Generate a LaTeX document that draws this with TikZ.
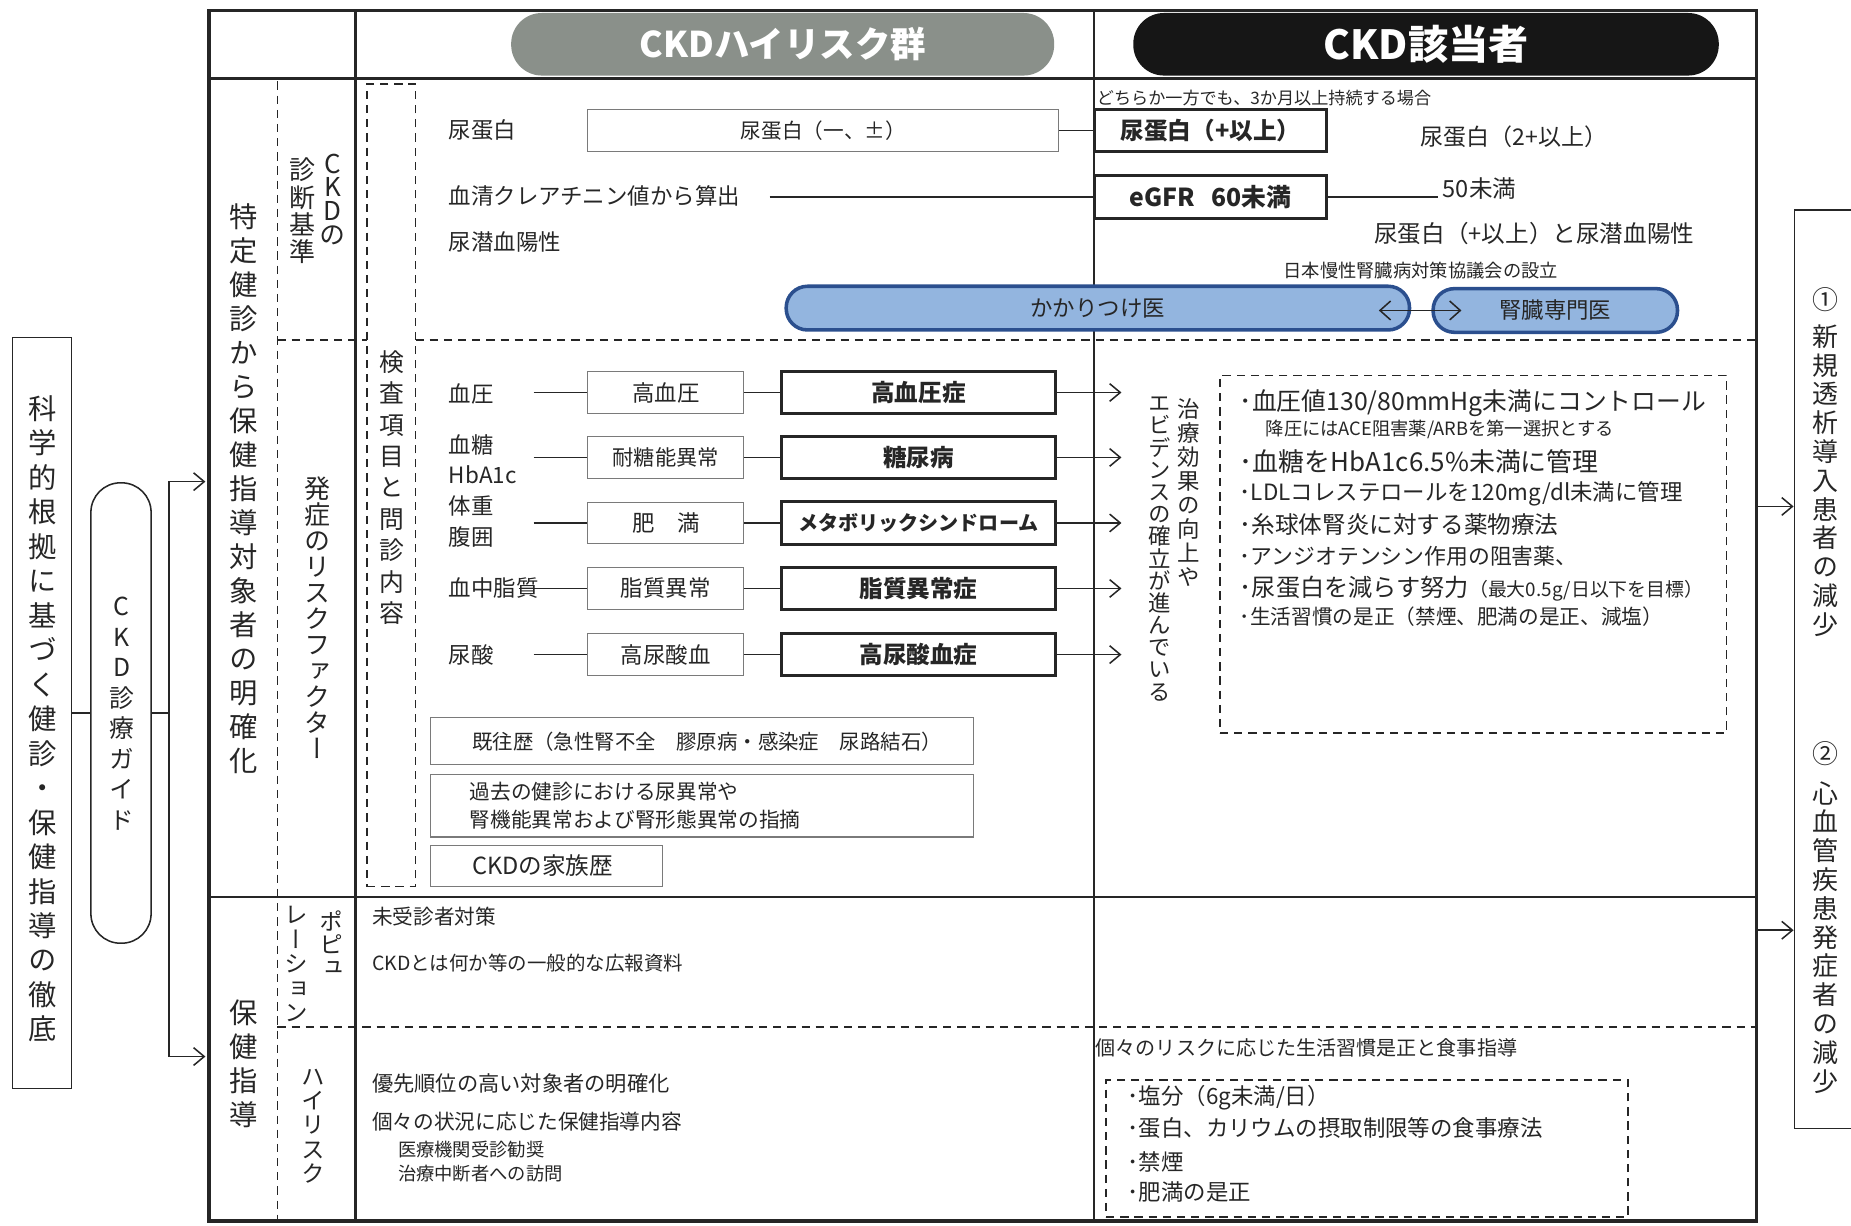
\documentclass[tikz,border=0pt]{standalone}
\usepackage{fontspec}
\setmainfont{Noto Sans CJK JP}
\newfontfamily\vjp{Noto Sans CJK JP}[Script=CJK,RawFeature=+vert]
\usetikzlibrary{arrows.meta}
\definecolor{ln}{HTML}{262626}
\definecolor{hgray}{HTML}{8A908A}
\definecolor{hblack}{HTML}{161616}
\definecolor{bfill}{HTML}{93B5DF}
\definecolor{bline}{HTML}{2B4F8E}
\definecolor{gbox}{HTML}{7A7A7A}
\newcommand\fs[1]{\fontsize{#1}{#1}\selectfont}
\makeatletter
\newcommand\vstack[2]{\vbox{\offinterlineskip\@tfor\vs@c:=#2\do{\hbox to 1.1em{\hss\vbox to #1{\vss\hbox{\rule[-0.12em]{0pt}{1em}\vs@c}\vss}\hss}}}}
\makeatother
\begin{document}
\begin{tikzpicture}[x=1pt,y=-1pt,
 every node/.style={inner sep=0pt, text=ln},
 lbl/.style={anchor=west, font=\fs{19}},
 gb/.style={draw=gbox, line width=0.9pt, font=\fs{19}, minimum width=132pt, minimum height=35pt},
 bb/.style={draw=ln, line width=2.6pt, font=\bfseries\fs{20}, minimum width=232pt, minimum height=36pt},
 dsh/.style={draw=ln, dash pattern=on 7pt off 5pt, line width=1.3pt},
 arr/.style={draw=ln, line width=1.3pt, -{Straight Barb[length=9pt,width=15pt]}},
 cn/.style={draw=ln, line width=1.3pt},
 vt/.style={font=\vjp\fs{#1}},
 blue/.style={draw=bline, line width=3pt, fill=bfill, rounded corners=18pt, minimum height=37pt, font=\fs{19}},
]
\useasboundingbox (0,0) rectangle (1568,1038);

% ---------- main frame ----------
\node[draw=ln, line width=3pt, minimum width=1311pt, minimum height=1025.5pt] (frame) at (832.5,521.75) {};
\draw[draw=ln, line width=3pt] (177,66.5) -- (1488,66.5);
\draw[draw=ln, line width=3pt] (301,9) -- (301,1034.5);
\draw[draw=ln, line width=2pt] (177,760) -- (1488,760);
\draw[draw=ln, line width=1.4pt] (927,9) -- (927,1034.5);
\draw[dsh] (235,69) -- (235,1034.5);
\draw[dsh] (235,288) -- (311,288);
\draw[dsh] (352,288) -- (1488,288);
\draw[dsh] (235,870) -- (1488,870);
\node[dsh, minimum width=41pt, minimum height=680pt] (kensa) at (331.5,411) {};

% ---------- header ----------
\node[fill=hgray, rounded corners=26pt, minimum width=460pt, minimum height=53pt, text=white, font=\bfseries\fs{30}] (hr) at (663,37.5) {CKDハイリスク群};
\node[fill=hblack, rounded corners=26pt, minimum width=496pt, minimum height=53pt, text=white, font=\bfseries\fs{34}] (cp) at (1208,37.5) {CKD該当者};

% ---------- left side ----------
\node[draw=ln, line width=1.3pt, minimum width=50pt, minimum height=636pt] (kb) at (35.5,604) {};
\node[vt=24] (kbt) at (36,609) {\vstack{29.2pt}{科学的根拠に基づく健診・保健指導の徹底}};
\node[draw=ln, line width=1.3pt, rounded corners=25pt, minimum width=51pt, minimum height=390pt] (gd) at (102.5,604) {};
\node[vt=21] (gdt) at (103,604) {\vstack{25.8pt}{CKD診療ガイド}};
\coordinate (bx) at (143,604);
\coordinate (bt) at (143,408);
\coordinate (bm) at (143,895);
\draw[cn] (kb.east) -- (gd.west);
\draw[cn] (gd.east) -- (bx);
\draw[arr] (bx) -- (bt) -- ([xshift=-1.5pt]bt -| frame.west);
\draw[arr] (bx) -- (bm) -- ([xshift=-1.5pt]bm -| frame.west);

% ---------- vertical row labels ----------
\node[vt=24] (vl1) at (206,414) {\vstack{28.8pt}{特定健診から保健指導対象者の明確化}};
\node[vt=22] (vl2) at (282,168.5) {\vstack{20.2pt}{CKDの}};
\node[vt=22] (vl3) at (256,178.5) {\vstack{23pt}{診断基準}};
\node[vt=22] (vl4) at (269,524) {\vstack{22.1pt}{発症のリスクファクター}};
\node[vt=21] (vl5) at (332,413) {\vstack{26.6pt}{検査項目と問診内容}};
\node[vt=24] (vl6) at (206,901) {\vstack{28.9pt}{保健指導}};
\node[vt=20] (vl7) at (281,800.5) {\vstack{19.5pt}{ポピュ}};
\node[vt=20] (vl8) at (251,816.5) {\vstack{20.8pt}{レーション}};
\node[vt=20] (vl9) at (265,953) {\vstack{20.5pt}{ハイリスク}};

% ---------- row 1 : CKD diagnostic criteria ----------
\node[lbl] (t1) at (380,110.5) {尿蛋白};
\node[gb, minimum width=399pt, minimum height=36pt, font=\fs{17.5}] (up1) at (697.5,110.5) {尿蛋白（一、±）};
\node[bb, minimum width=197pt, font=\bfseries\fs{20}] (up2) at (1025.5,110.5) {尿蛋白（+以上）};
\draw[cn] (up1.east) -- (up2.west);
\node[lbl] (t2) at (380,166) {血清クレアチニン値から算出};
\node[bb, minimum width=197pt, font=\bfseries\fs{21}] (egfr) at (1025.5,167) {eGFR\hspace{14pt}60未満};
\coordinate (c1) at (652,167);
\draw[cn] (c1) -- (egfr.west);
\coordinate (c2) at (1218,167);
\draw[cn] (egfr.east) -- (c2);
\node[lbl, font=\fs{20}] (t6) at (1222,160) {50未満};
\node[lbl] (t3) at (380,205) {尿潜血陽性};
\node[lbl, font=\fs{14.5}] (t4) at (929,83) {どちらか一方でも、3か月以上持続する場合};
\node[lbl, font=\fs{19.5}] (t5) at (1203,116) {尿蛋白（2+以上）};
\node[lbl, font=\fs{20}] (t7) at (1164,198) {尿蛋白（+以上）と尿潜血陽性};
\node[lbl, font=\fs{15.5}] (t8) at (1087,229) {日本慢性腎臓病対策協議会の設立};
\node[blue, minimum width=528pt] (kk) at (930,261) {かかりつけ医};
\node[blue, minimum width=207pt] (sm) at (1317.5,263) {腎臓専門医};
\coordinate (d1) at (1168,263);
\coordinate (d2) at (1238,263);
\draw[draw=ln, line width=1.3pt, {Straight Barb[length=9pt,width=16pt]}-{Straight Barb[length=9pt,width=16pt]}] (d1) -- (d2);

% ---------- row 2 : risk factors ----------
\node[lbl] (r1) at (380,334) {血圧};
\node[lbl] (r2) at (380,377) {血糖};
\node[lbl] (r2b) at (380,402) {HbA1c};
\node[lbl] (r3) at (380,429) {体重};
\node[lbl] (r3b) at (380,455) {腹囲};
\node[lbl] (r4) at (380,498) {血中脂質};
\node[lbl] (r5) at (380,555) {尿酸};

\node[gb] (g1) at (564,332.5) {高血圧};
\node[gb, font=\fs{18}] (g2) at (564,387.5) {耐糖能異常};
\node[gb] (g3) at (564,443) {肥　満};
\node[gb] (g4) at (564,498.5) {脂質異常};
\node[gb] (g5) at (564,554.5) {高尿酸血};
\node[bb] (b1) at (778,332.5) {高血圧症};
\node[bb] (b2) at (778,387.5) {糖尿病};
\node[bb, font=\bfseries\fs{17}] (b3) at (778,443) {メタボリックシンドローム};
\node[bb] (b4) at (778,498.5) {脂質異常症};
\node[bb] (b5) at (778,554.5) {高尿酸血症};

\coordinate (s1) at (452,332.5);
\coordinate (s2) at (452,387.5);
\coordinate (s3) at (452,443);
\coordinate (s4) at (440,498.5);
\coordinate (s5) at (452,554.5);
\coordinate (e1) at (950,332.5);
\coordinate (e2) at (950,387.5);
\coordinate (e3) at (950,443);
\coordinate (e4) at (950,498.5);
\coordinate (e5) at (950,554.5);
\foreach \i in {1,...,5}{
  \draw[cn] (s\i) -- (g\i.west);
  \draw[cn] (g\i.east) -- (b\i.west);
  \draw[arr] (b\i.east) -- (e\i);
}

\node[gb, minimum width=460pt, minimum height=40pt, text width=390pt, align=left, inner xsep=35pt, font=\fs{17.3}] (kio) at (595,628) {既往歴（急性腎不全　膠原病・感染症　尿路結石）};
\node[gb, minimum width=460pt, minimum height=53pt, text width=394pt, align=left, inner xsep=33pt, font=\fontsize{17.5}{23}\selectfont] (kako) at (595,682.5) {過去の健診における尿異常や\\腎機能異常および腎形態異常の指摘};
\node[gb, minimum width=196pt, minimum height=35pt, text width=126pt, align=left, inner xsep=35pt, font=\fs{20}] (fam) at (463,733.5) {CKDの家族歴};

\node[vt=19] (ev1) at (1007,417.5) {\vstack{20.4pt}{治療効果の向上や}};
\node[vt=19] (ev2) at (982,463.7) {\vstack{18.8pt}{エビデンスの確立が進んでいる}};

\node[dsh, minimum width=429pt, minimum height=303pt] (db1) at (1248,469.5) {};
\node[lbl, font=\fs{21}] (m1) at (1050,341.7) {･血圧値130/80mmHg未満にコントロール};
\node[lbl, font=\fs{15.5}] (m2) at (1072,364) {降圧にはACE阻害薬/ARBを第一選択とする};
\node[lbl, font=\fs{22}] (m3) at (1050,391) {･血糖をHbA1c6.5\%未満に管理};
\node[lbl, font=\fs{19}] (m4) at (1050,418) {･LDLコレステロールを120mg/dl未満に管理};
\node[lbl, font=\fs{20}] (m5) at (1050,444.7) {･糸球体腎炎に対する薬物療法};
\node[lbl, font=\fs{18.5}] (m6) at (1050,471.5) {･アンジオテンシン作用の阻害薬、};
\node[lbl, font=\fs{20.5}] (m7) at (1050,498.4) {･尿蛋白を減らす努力{\fs{16}（最大0.5g/日以下を目標）}};
\node[lbl, font=\fs{17.5}] (m8) at (1050,522.4) {･生活習慣の是正（禁煙、肥満の是正、減塩）};

% ---------- row 3 : health guidance ----------
\node[lbl, font=\fs{17.5}] (p1) at (315,776.5) {未受診者対策};
\node[lbl, font=\fs{16.5}] (p2) at (315,816) {CKDとは何か等の一般的な広報資料};
\node[lbl, font=\fs{18}] (h1) at (315,917.6) {優先順位の高い対象者の明確化};
\node[lbl, font=\fs{17.5}] (h2) at (315,950) {個々の状況に応じた保健指導内容};
\node[lbl, font=\fs{15.5}] (h3) at (337,974) {医療機関受診勧奨};
\node[lbl, font=\fs{15.5}] (h4) at (337,994.5) {治療中断者への訪問};
\node[lbl, font=\fs{17}] (h5) at (928,888) {個々のリスクに応じた生活習慣是正と食事指導};
\node[dsh, minimum width=442pt, minimum height=116pt] (db2) at (1158,973) {};
\node[lbl, font=\fs{19}] (q1) at (955,930) {･塩分（6g未満/日）};
\node[lbl, font=\fs{19}] (q2) at (955,955.6) {･蛋白、カリウムの摂取制限等の食事療法};
\node[lbl, font=\fs{19}] (q3) at (955,984) {･禁煙};
\node[lbl, font=\fs{19}] (q4) at (955,1009.6) {･肥満の是正};

% ---------- right goals ----------
\node[draw=ln, line width=1.3pt, minimum width=80pt, minimum height=778pt] (goal) at (1560,567) {};
\node[font=\fs{22}] (n1) at (1546,254) {①};
\node[vt=22] (g1t) at (1546,407) {\vstack{24.4pt}{新規透析導入患者の減少}};
\node[font=\fs{22}] (n2) at (1546,638) {②};
\node[vt=22] (g2t) at (1546,794) {\vstack{24.4pt}{心血管疾患発症者の減少}};
\coordinate (o1) at (1488,429);
\coordinate (o2) at (1488,788);
\draw[arr] (o1) -- (o1 -| goal.west);
\draw[arr] (o2) -- (o2 -| goal.west);
\end{tikzpicture}
\end{document}
